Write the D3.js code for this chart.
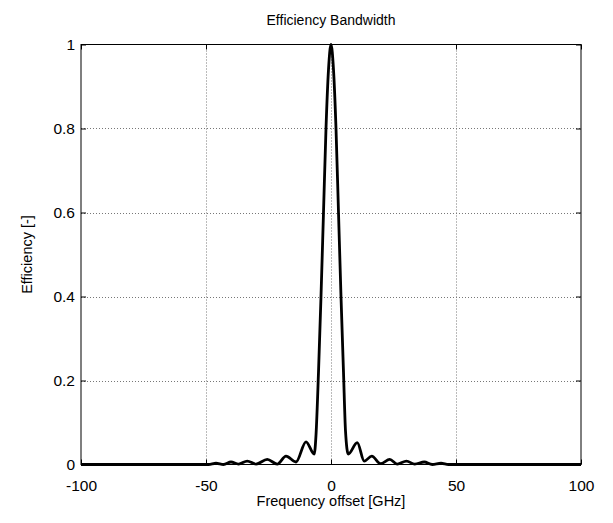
<!DOCTYPE html>
<html>
<head>
<meta charset="utf-8">
<script src="https://cdn.jsdelivr.net/npm/d3@7"></script>
<style>
  body { margin: 0; background: #fff; }
  text { font-family: "Liberation Sans", Arial, sans-serif; fill: #000; }
</style>
</head>
<body>
<svg id="chart" width="613" height="523"></svg>
<script>
	// frequency offset [GHz] and efficiency
	var freq = [-100, -49, -46, -43, -40, -37, -33.5, -30, -25.5, -21.5, -18, -14, -10, -6.7, -6, -5, -4, -3, -2, -1, 0,
		1, 2, 3, 4, 5, 5.8, 6.9, 10.5, 13.3, 16.3, 19.8, 23.5, 26.5, 30.2, 33.5, 37.3, 40.5, 44, 47, 100];
	var eff = [0, 0, 0.003, 0, 0.006, 0.001, 0.008, 0.001, 0.012, 0.001, 0.02, 0.006, 0.054, 0.025, 0.07, 0.22, 0.4, 0.6, 0.8, 0.94, 1,
		0.94, 0.8, 0.6, 0.4, 0.22, 0.08, 0.025, 0.052, 0.008, 0.02, 0.002, 0.012, 0.001, 0.008, 0.001, 0.006, 0, 0.003, 0, 0];
	var xTicks = [-100, -50, 0, 50, 100];
	var yTicks = [0, 0.2, 0.4, 0.6, 0.8, 1];

	var pLeft = 81, pRight = 581, pTop = 44.5, pBottom = 464.5;
	var svg = d3.select('#chart');

	var x = d3.scaleLinear().domain([-100, 100]).range([pLeft, pRight]);
	var y = d3.scaleLinear().domain([0, 1]).range([pBottom, pTop]);

	// grid
	var grid = svg.append('g');
	grid.selectAll('line.gx').data(xTicks.slice(1, -1)).enter().append('line')
		.attr('x1', function(d) { return Math.round(x(d)) + 0.5 })
		.attr('x2', function(d) { return Math.round(x(d)) + 0.5 })
		.attr('y1', pTop).attr('y2', pBottom)
		.style('stroke', '#777').style('stroke-dasharray', '1,2');
	grid.selectAll('line.gy').data(yTicks.slice(1, -1)).enter().append('line')
		.attr('y1', function(d) { return Math.round(y(d)) + 0.5 })
		.attr('y2', function(d) { return Math.round(y(d)) + 0.5 })
		.attr('x1', pLeft).attr('x2', pRight)
		.style('stroke', '#777').style('stroke-dasharray', '1,2');

	// axes with inward ticks on all sides
	var fmt = function(d) { return String(d) };
	svg.append('g').attr('transform', 'translate(0,' + pBottom + ')')
		.call(d3.axisBottom(x).tickValues(xTicks).tickSizeInner(-5).tickSizeOuter(0).tickPadding(15).tickFormat(fmt));
	svg.append('g').attr('transform', 'translate(0,' + pTop + ')')
		.call(d3.axisTop(x).tickValues(xTicks).tickSizeInner(-5).tickSizeOuter(0).tickFormat(''));
	svg.append('g').attr('transform', 'translate(' + pLeft + ',0)')
		.call(d3.axisLeft(y).tickValues(yTicks).tickSizeInner(-5).tickSizeOuter(0).tickPadding(6).tickFormat(fmt));
	svg.append('g').attr('transform', 'translate(' + pRight + ',0)')
		.call(d3.axisRight(y).tickValues(yTicks).tickSizeInner(-5).tickSizeOuter(0).tickFormat(''));
	svg.selectAll('.domain').remove();
	svg.selectAll('.tick text').style('font-size', '15.5px').style('font-family', '"Liberation Sans", Arial, sans-serif');

	svg.append('rect')
		.attr('x', pLeft).attr('y', pTop).attr('width', pRight - pLeft).attr('height', pBottom - pTop)
		.style('fill', 'none').style('stroke', '#000').style('stroke-width', 1);

	// curve
	var pts = freq.map(function(f, i) { return [f, eff[i]] });
	var line = d3.line()
		.x(function(d) { return x(d[0]) })
		.y(function(d) { return y(d[1]) })
		.curve(d3.curveMonotoneX);
	svg.append('path').datum(pts)
		.attr('d', line)
		.style('fill', 'none').style('stroke', '#000').style('stroke-width', 2.8)
		.style('stroke-linejoin', 'round');

	// labels
	svg.append('text').attr('x', (pLeft + pRight) / 2).attr('y', 25)
		.attr('text-anchor', 'middle').style('font-size', '14px').text('Efficiency Bandwidth');
	svg.append('text').attr('x', (pLeft + pRight) / 2).attr('y', 506)
		.attr('text-anchor', 'middle').style('font-size', '14.5px').text('Frequency offset [GHz]');
	svg.append('text').attr('transform', 'translate(32,' + ((pTop + pBottom) / 2) + ') rotate(-90)')
		.attr('text-anchor', 'middle').style('font-size', '14.5px').text('Efficiency [-]');
</script>
</body>
</html>
